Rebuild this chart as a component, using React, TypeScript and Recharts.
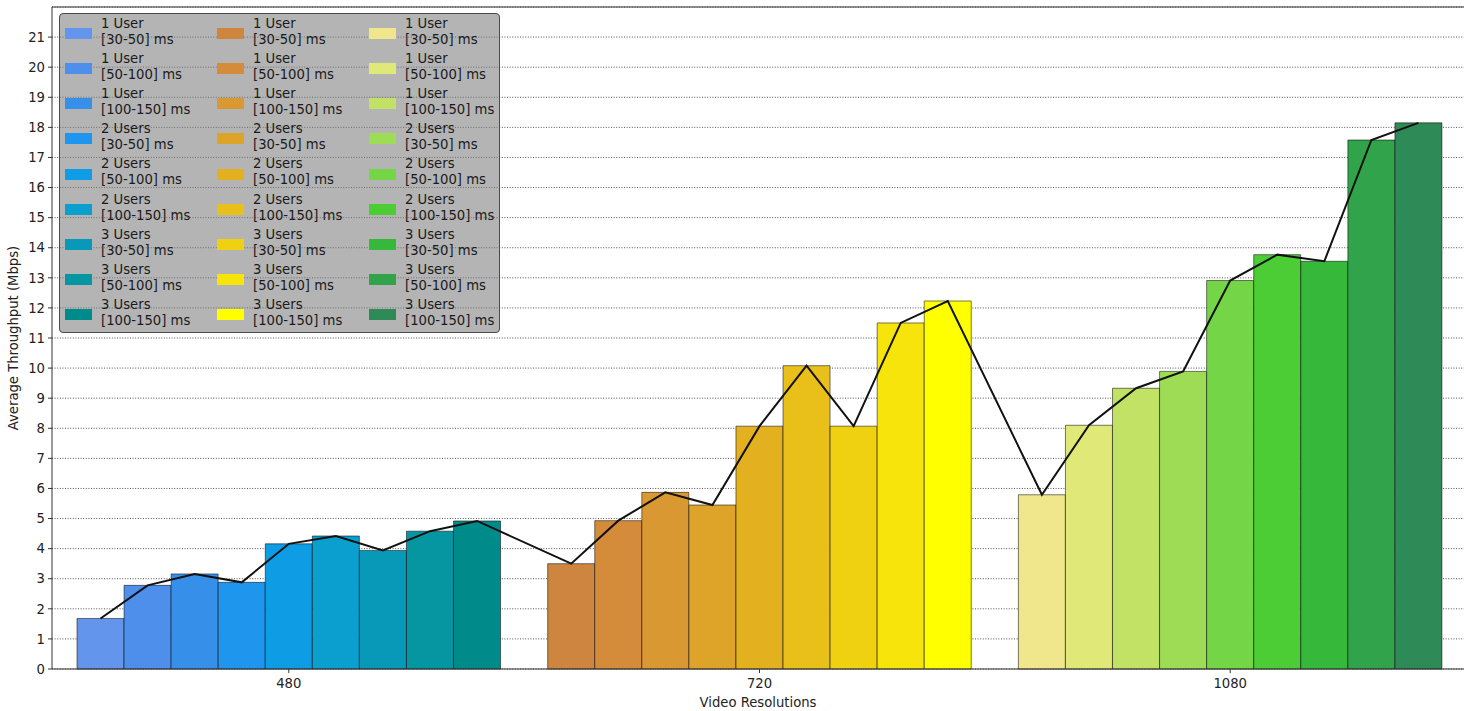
import { ComposedChart, Bar, Line, Cell, XAxis, YAxis, CartesianGrid, Label, ReferenceLine } from 'recharts'

const resolutions = ['480', '720', '1080']

const userLabels = ['1 User', '1 User', '1 User', '2 Users', '2 Users', '2 Users', '3 Users', '3 Users', '3 Users']
const delayLabels = [
  '[30-50] ms', '[50-100] ms', '[100-150] ms',
  '[30-50] ms', '[50-100] ms', '[100-150] ms',
  '[30-50] ms', '[50-100] ms', '[100-150] ms',
]

const throughput480 = [1.68, 2.78, 3.16, 2.88, 4.16, 4.42, 3.94, 4.58, 4.92]
const throughput720 = [3.5, 4.93, 5.87, 5.45, 8.07, 10.08, 8.07, 11.5, 12.23]
const throughput1080 = [5.79, 8.1, 9.33, 9.89, 12.91, 13.77, 13.55, 17.58, 18.15]

const colors480 = ['#6495ed', '#4d8fea', '#3690ea', '#1e96ee', '#0e9de4', '#0a9fcf', '#0899b8', '#0596a2', '#008b8b']
const colors720 = ['#cd853f', '#d48b3a', '#d99832', '#dea42a', '#e3b020', '#e9c01a', '#f0d112', '#f6e40a', '#ffff00']
const colors1080 = ['#f0e68c', '#e0e878', '#c1e264', '#9fdc56', '#74d546', '#4ccd36', '#36b83a', '#31a34a', '#2e8b57']

const yTicks = [0, 1, 2, 3, 4, 5, 6, 7, 8, 9, 10, 11, 12, 13, 14, 15, 16, 17, 18, 19, 20, 21]

const seriesByRes = [throughput480, throughput720, throughput1080]
const colorsByRes = [colors480, colors720, colors1080]

type Row = { slot: string; value: number | null; color: string }

const data: Row[] = []
resolutions.forEach((res, r) => {
  seriesByRes[r].forEach((v, i) => {
    data.push({ slot: `${res}-${i}`, value: v, color: colorsByRes[r][i] })
  })
  if (r < resolutions.length - 1) data.push({ slot: `gap-${res}`, value: null, color: 'none' })
})

const font = '"DejaVu Sans", Verdana, sans-serif'
const fs = 13.2

function ResTick(props: any) {
  const { x, y, payload } = props
  const [res, idx] = String(payload.value).split('-')
  if (idx !== '4') return <g />
  return (
    <g>
      <line x1={x} x2={x} y1={y} y2={y + 4} stroke="#333" strokeWidth={1} />
      <text x={x} y={y + 14.5} textAnchor="middle" dominantBaseline="central" fontSize={fs} fill="#222">
        {res}
      </text>
    </g>
  )
}

function LegendBox() {
  const cols = [colors480, colors720, colors1080]
  return (
    <div
      style={{
        position: 'absolute',
        left: 59,
        top: 13,
        width: 441,
        height: 320,
        boxSizing: 'border-box',
        border: '1px solid #4a4a4a',
        borderRadius: 4,
        background: 'rgba(128,128,128,0.59)',
        fontFamily: font,
        fontSize: fs,
        color: '#1a1a1a',
      }}
    >
      {cols.map((cc, c) =>
        cc.map((color, i) => {
          const cy = 19.4 + i * 35.16
          const sx = 4.5 + c * 152
          return (
            <div key={`${c}-${i}`}>
              <div
                style={{ position: 'absolute', left: sx, top: cy - 5.5, width: 27, height: 11, background: color }}
              />
              <div
                style={{
                  position: 'absolute',
                  left: sx + 36.5,
                  top: cy - 17.7,
                  lineHeight: '16px',
                  whiteSpace: 'nowrap',
                }}
              >
                {userLabels[i]}
                <br />
                {delayLabels[i]}
              </div>
            </div>
          )
        })
      )}
    </div>
  )
}

export default function App() {
  return (
    <div style={{ position: 'absolute', left: 0, top: 0, width: 1470, height: 711, background: '#fff' }}>
      <ComposedChart
        width={1470}
        height={711}
        data={data}
        barCategoryGap={0}
        margin={{ top: 7, right: 6, bottom: 0, left: 0 }}
        style={{ fontFamily: font }}
      >
        <CartesianGrid vertical={false} stroke="#000" strokeOpacity={0.85} strokeWidth={0.8} strokeDasharray="1 1.6" />
        <XAxis
          dataKey="slot"
          type="category"
          interval={0}
          height={42}
          padding={{ left: 25, right: 22 }}
          tickLine={false}
          tickSize={0}
          tickMargin={0}
          tick={<ResTick />}
          axisLine={{ stroke: '#333', strokeWidth: 1 }}
        >
          <Label
            content={() => (
              <text x={758} y={702.5} textAnchor="middle" dominantBaseline="central" fontSize={fs} fill="#222">
                Video Resolutions
              </text>
            )}
          />
        </XAxis>
        <YAxis
          type="number"
          domain={[0, 22]}
          ticks={yTicks}
          interval={0}
          width={52}
          tickSize={4}
          tickMargin={3}
          tick={{ fontSize: fs, fill: '#222' }}
          tickLine={{ stroke: '#333' }}
          axisLine={{ stroke: '#333', strokeWidth: 1 }}
        >
          <Label
            content={() => (
              <text
                x={13}
                y={338}
                transform="rotate(-90, 13, 338)"
                textAnchor="middle"
                dominantBaseline="central"
                fontSize={fs}
                fill="#222"
              >
                Average Throughput (Mbps)
              </text>
            )}
          />
        </YAxis>
        <YAxis
          yAxisId="right"
          orientation="right"
          width={0}
          domain={[0, 22]}
          tick={false}
          tickLine={false}
          axisLine={{ stroke: '#333', strokeWidth: 1 }}
        />
        <ReferenceLine y={22} stroke="#333" strokeWidth={1} ifOverflow="visible" />
        <Bar dataKey="value" isAnimationActive={false} stroke="#000" strokeOpacity={0.65} strokeWidth={0.8}>
          {data.map((d) => (
            <Cell key={d.slot} fill={d.color} />
          ))}
        </Bar>
        <Line
          dataKey="value"
          type="linear"
          stroke="#111"
          strokeWidth={2}
          dot={false}
          activeDot={false}
          connectNulls
          isAnimationActive={false}
        />
      </ComposedChart>
      <LegendBox />
    </div>
  )
}
